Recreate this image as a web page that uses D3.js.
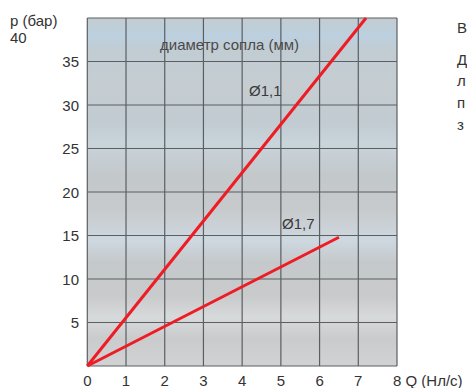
<!DOCTYPE html>
<html><head><meta charset="utf-8">
<script src="https://cdn.jsdelivr.net/npm/d3@7/dist/d3.min.js"></script>
<style>body{margin:0;background:#fff;font-family:Arial,"Liberation Sans",sans-serif}</style>
</head><body><svg id="c" width="467" height="388"></svg>
<script>
const xTicks = [0,1,2,3,4,5,6,7,8];
const yTicks = [5,10,15,20,25,30,35];
const series = [
  {name:"Ø1,1", q:[0,7.2], p:[0,40]},
  {name:"Ø1,7", q:[0,6.5], p:[0,14.8]}
];
const sideText = ["В","Д","л","п","з"];

const svg = d3.select("#c");
const L=87.3, R=397, T=18, B=366;
const x = d3.scaleLinear().domain([0,8]).range([L,R]);
const y = d3.scaleLinear().domain([0,40]).range([B,T]);

const defs = svg.append("defs");
const g = defs.append("linearGradient").attr("id","bg").attr("x1",0).attr("y1",0).attr("x2",0).attr("y2",1);
[[0,"#c3ccd1"],[0.05,"#bcd0df"],[0.09,"#c1ccd3"],[0.2,"#c5cdd1"],[0.3,"#c1cbd1"],[0.36,"#c9d4db"],[0.45,"#c3c8cb"],[0.55,"#c7cacc"],[0.64,"#ced8e0"],[0.7,"#c5c9cb"],[0.8,"#c9cacb"],[0.86,"#d7dadb"],[0.92,"#cacbcc"],[1,"#d1d2d3"]]
  .forEach(s=>g.append("stop").attr("offset",s[0]).attr("stop-color",s[1]));

svg.append("rect").attr("x",L).attr("y",T).attr("width",R-L).attr("height",B-T).attr("fill","url(#bg)");

const grid = svg.append("g").attr("stroke","#5a5f63").attr("stroke-width",1.2);
xTicks.forEach(t=>grid.append("line").attr("x1",x(t)).attr("x2",x(t)).attr("y1",T).attr("y2",B));
yTicks.concat([0,40]).forEach(t=>grid.append("line").attr("x1",L).attr("x2",R).attr("y1",y(t)).attr("y2",y(t)));

const txt = svg.append("g").attr("font-size",15).attr("fill","#333");
yTicks.forEach(t=>txt.append("text").attr("x",79).attr("y",y(t)+5.5).attr("text-anchor","end").text(t));
xTicks.slice(0,8).forEach(t=>txt.append("text").attr("x",x(t)).attr("y",386).attr("text-anchor","middle").text(t));
txt.append("text").attr("x",x(8)-4).attr("y",386).text("8 Q (Нл/с)");
txt.append("text").attr("x",10).attr("y",26).text("p (бар)");
txt.append("text").attr("x",10).attr("y",43).text("40");

svg.append("text").attr("x",160).attr("y",50).attr("font-size",15).attr("fill","#4a4a4a").text("диаметр сопла (мм)");

const line = d3.line().x(d=>x(d[0])).y(d=>y(d[1]));
series.forEach(s=>{
  svg.append("path").attr("d",line(s.q.map((q,i)=>[q,s.p[i]]))).attr("fill","none").attr("stroke","#ee1c24").attr("stroke-width",3);
});
svg.append("text").attr("x",249).attr("y",96).attr("font-size",15).attr("fill","#3a3a3a").text(series[0].name);
svg.append("text").attr("x",282).attr("y",229).attr("font-size",15).attr("fill","#3a3a3a").text(series[1].name);

const sy=[33,65,86,108,130];
sideText.forEach((t,i)=>txt.append("text").attr("x",457).attr("y",sy[i]).text(t));
</script></body></html>
